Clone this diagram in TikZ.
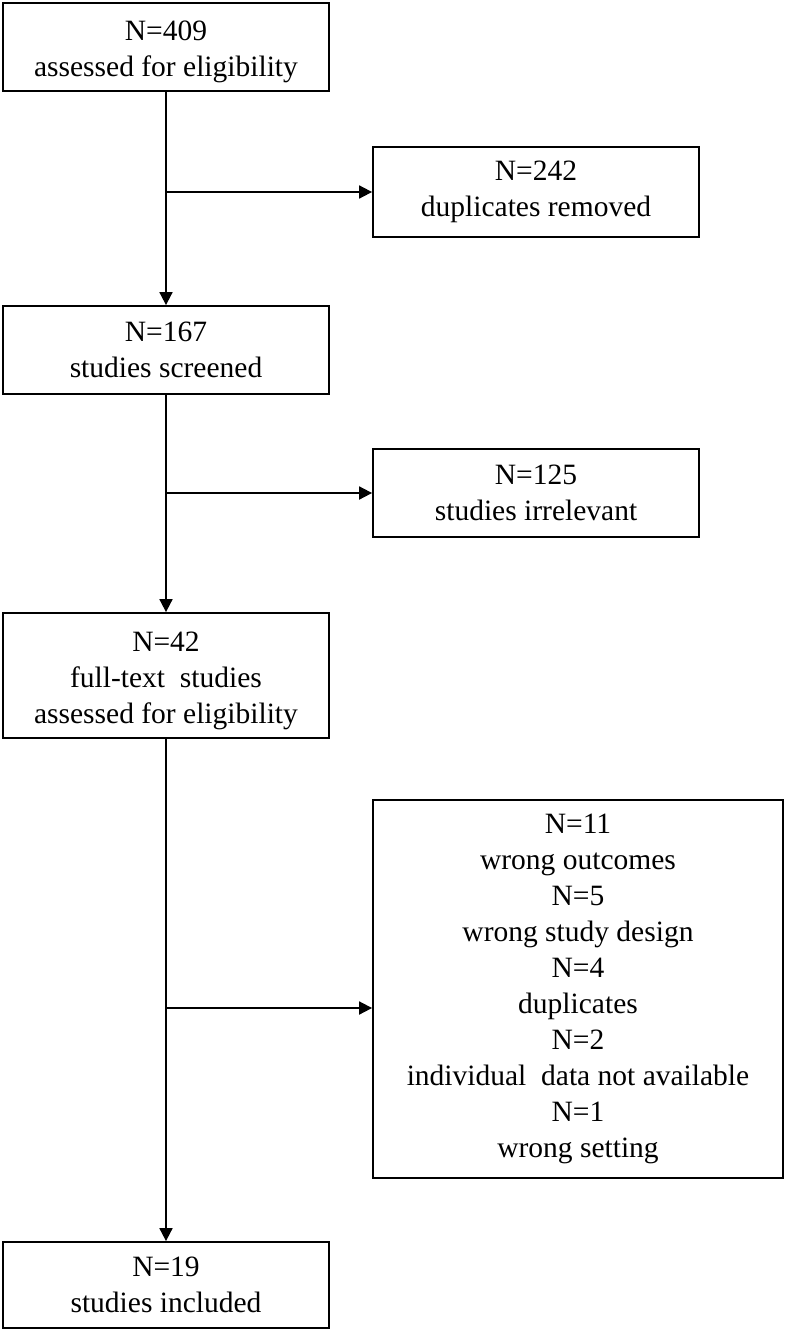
\documentclass[tikz,border=0pt]{standalone}
\usepackage{fontspec}
\setmainfont{Liberation Serif}
\usetikzlibrary{arrows.meta,calc}
\newcommand\mylowstrut{\rule{0pt}{30pt}}
\begin{document}
\begin{tikzpicture}[x=1pt,y=-1pt,
  box/.style={draw=black,line width=1.8pt,fill=white,align=center,
    minimum width=326pt,inner sep=0pt,
    font=\fontsize{29.5}{36}\selectfont},
  arr/.style={line width=1.8pt,-{Triangle[length=13pt,width=13pt]}},
  ln/.style={line width=1.8pt}]
\fill[white] (0,0) rectangle (787,1333);
\useasboundingbox (0,0) rectangle (787,1333);
\node[box,minimum height=88pt] (b1) at (166,47) {\mylowstrut N=409\\assessed for eligibility};
\node[box,minimum height=90pt] (b2) at (536,192) {N=242\\duplicates removed};
\node[box,minimum height=88pt] (b3) at (166,350) {N=167\\studies screened};
\node[box,minimum height=88pt] (b4) at (536,493) {N=125\\studies irrelevant};
\node[box,minimum height=125pt] (b5) at (166,675.5) {\mylowstrut N=42\\full-text\ \ studies\\assessed for eligibility};
\node[box,minimum width=410pt,minimum height=378pt] (b6) at (578,989) {N=11\\wrong outcomes\\N=5\\wrong study design\\N=4\\duplicates\\N=2\\individual\ \ data not available\\N=1\\wrong setting};
\node[box,minimum height=86pt] (b7) at (166,1285) {N=19\\studies included};
\coordinate (j1) at (b1.south |- b2.west);
\coordinate (j2) at (b3.south |- b4.west);
\coordinate (j3) at (166,1008);
\draw[arr] (b1.south) -- (b3.north);
\draw[arr] (j1) -- (b2.west);
\draw[arr] (b3.south) -- (b5.north);
\draw[arr] (j2) -- (b4.west);
\draw[arr] (b5.south) -- (b7.north);
\draw[arr] (j3) -- (j3 -| b6.west);
\end{tikzpicture}
\end{document}
